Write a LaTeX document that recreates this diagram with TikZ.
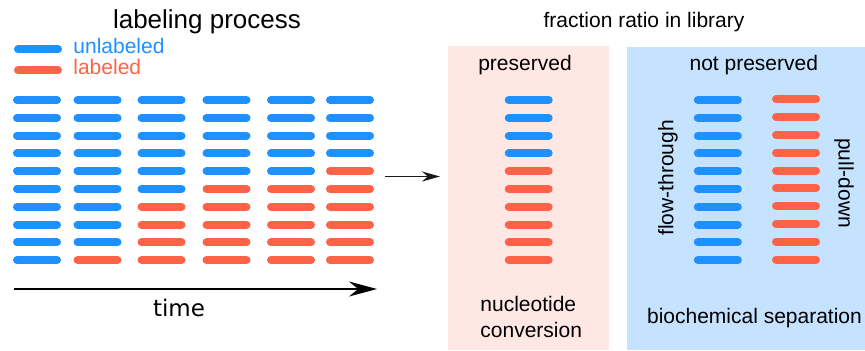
\documentclass[tikz,border=0pt]{standalone}
\usepackage{fontspec}
\setmainfont{Liberation Sans}
\newfontfamily\dejavu{DejaVu Sans}
\usepackage{xcolor}
\usetikzlibrary{arrows.meta}
\definecolor{ublue}{RGB}{30,144,255}
\definecolor{lred}{RGB}{255,99,71}

\begin{document}
\begin{tikzpicture}[x = 0.5pt, y = -0.5pt,
                    strand/.style = {line width = 4pt, line cap = round},
                    txt/.style = {inner sep = 0pt, anchor = base,
                                  font = \fontsize{10.5}{12.65}\selectfont}]
  \useasboundingbox (0,0) rectangle (865,350);
  % library boxes
  \fill[lred!15] (448.3,46) rectangle (609,350);
  \fill[ublue!26] (627.3,46.7) rectangle (865,350);
  % titles
  \node[txt, font = \fontsize{13}{15}\selectfont] (lbl) at (207,28.3) {labeling process};
  \node[txt] (frac) at (644,27.7) {fraction ratio in library};
  \node[txt] (pres) at (525,70) {preserved};
  \node[txt] (npres) at (753.8,70) {not preserved};
  % legend
  \draw[strand, ublue] (18,49.3) -- (58,49.3);
  \draw[strand, lred] (18,70.3) -- (58,70.3);
  \node[txt, anchor = base west, ublue] (unl) at (73,53.3) {unlabeled};
  \node[txt, anchor = base west, lred] (lab) at (73,74.3) {labeled};
  % labeling over time
  \foreach \cx/\nred in {37/0, 97.5/1, 161.5/4, 226.5/5, 291/5, 350/6} {
    \foreach \r in {1,...,10} {
      \pgfmathsetmacro{\ry}{100+17.8*(\r-1)}
      \ifnum\r>\numexpr10-\nred\relax \def\col{lred}\else\def\col{ublue}\fi
      \draw[strand, \col] (\cx-20,\ry) -- (\cx+20,\ry);
    }
  }
  \coordinate (t0) at (14,289);
  \coordinate (t1) at (377,289);
  \draw[line width = 0.8pt, -{Stealth[length = 14pt, width = 7.5pt]}] (t0) -- (t1);
  \node[txt, font = \dejavu\fontsize{11.5}{13}\selectfont] (time) at (179,316.5) {time};
  % to library
  \coordinate (src) at (385,176.5);
  \coordinate (dst) at (440,176.5);
  \draw[line width = 0.75pt, black!90, -{Stealth[length = 9pt, width = 5pt]}] (src) -- (dst);
  % nucleotide conversion
  \foreach \r in {1,...,10} {
    \pgfmathsetmacro{\ry}{100+17.8*(\r-1)}
    \ifnum\r>4 \def\col{lred}\else\def\col{ublue}\fi
    \draw[strand, \col] (508.7,\ry) -- (548.7,\ry);
  }
  \node[txt, anchor = base west, align = left] (nuc) at (480,337) {nucleotide\\conversion};
  % biochemical separation
  \foreach \r in {1,...,10} {
    \pgfmathsetmacro{\ry}{100+17.8*(\r-1)}
    \draw[strand, ublue] (697.8,\ry) -- (737.8,\ry);
    \draw[strand, lred] (776,\ry-0.7) -- (816,\ry-0.7);
  }
  \node[txt, anchor = center, rotate = 90] (flow) at (668,178) {flow-through};
  \node[txt, anchor = center, rotate = -90] (pull) at (844,183) {pull-down};
  \node[txt, anchor = base west] (bio) at (646.7,323) {biochemical separation};
\end{tikzpicture}
\end{document}
